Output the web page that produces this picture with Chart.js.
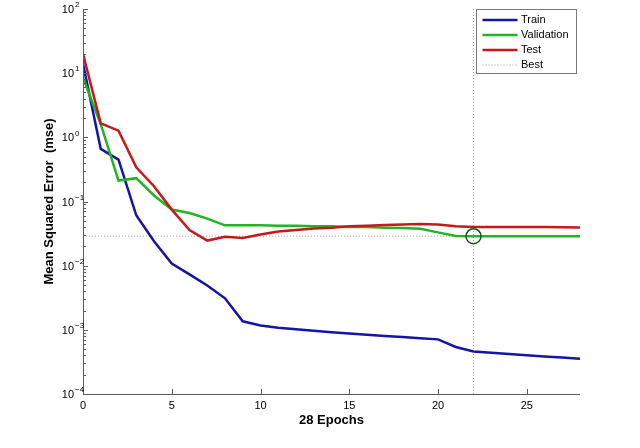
<!DOCTYPE html>
<html>
<head>
<meta charset="UTF-8">
<title>Performance</title>
<script src="https://cdn.jsdelivr.net/npm/chart.js@4/dist/chart.umd.min.js"></script>
<style>
  html, body { margin: 0; padding: 0; background: #fff; }
  #wrap { width: 640px; height: 448px; }
</style>
</head>
<body>
<div id="wrap"><canvas id="perf"></canvas></div>
<script>
const epochs = [0, 1, 2, 3, 4, 5, 6, 7, 8, 9, 10, 11, 12, 13, 14, 15, 16, 17, 18, 19, 20, 21, 22, 23, 24, 25, 26, 27, 28];
const trainMse = [14, 0.66, 0.45, 0.061, 0.024, 0.0108, 0.0073, 0.0049, 0.0031, 0.00136, 0.00117, 0.00108, 0.00102, 0.00097, 0.00092, 0.00088, 0.00084, 0.0008, 0.00077, 0.00074, 0.00071, 0.00054, 0.00046, 0.00044, 0.00042, 0.0004, 0.000385, 0.00037, 0.000355];
const validationMse = [8.5, 1.6, 0.212, 0.231, 0.124, 0.075, 0.066, 0.054, 0.0425, 0.0425, 0.0425, 0.042, 0.042, 0.041, 0.041, 0.04, 0.04, 0.039, 0.0385, 0.0375, 0.033, 0.029, 0.0288, 0.0288, 0.0288, 0.0288, 0.0288, 0.0288, 0.0288];
const testMse = [20, 1.65, 1.27, 0.342, 0.173, 0.0748, 0.036, 0.0246, 0.0281, 0.0271, 0.0305, 0.034, 0.036, 0.038, 0.039, 0.041, 0.042, 0.043, 0.044, 0.0448, 0.0438, 0.041, 0.04, 0.04, 0.04, 0.04, 0.04, 0.0398, 0.0395];
const bestEpoch = 22;
const bestMse = validationMse[bestEpoch];
const xTicks = [0, 5, 10, 15, 20, 25];
const decades = [-4, -3, -2, -1, 0, 1, 2];

const FONT = '"Liberation Sans", Arial, Helvetica, sans-serif';
const AXIS = '#5a5a5a';
const colTrain = '#1414a6', colVal = '#22b422', colTest = '#c41a1a', colBest = '#9aa6bc';

function pts(ys) { return epochs.map((e, i) => ({ x: e, y: ys[i] })); }

// axes, inward ticks, y labels, titles and the legend, MATLAB style
const matlabLook = {
  id: 'matlabLook',
  afterDraw(chart) {
    const ctx = chart.ctx, a = chart.chartArea;
    const xs = chart.scales.x, ys = chart.scales.y;
    ctx.save();
    ctx.strokeStyle = AXIS;
    ctx.lineWidth = 1;
    ctx.beginPath();
    ctx.moveTo(a.left + 0.5, a.top);
    ctx.lineTo(a.left + 0.5, a.bottom + 0.5);
    ctx.lineTo(a.right, a.bottom + 0.5);
    // x ticks
    xTicks.forEach(v => {
      const px = Math.round(xs.getPixelForValue(v)) + 0.5;
      ctx.moveTo(px, a.bottom);
      ctx.lineTo(px, a.bottom - 5);
    });
    // y major + minor ticks
    decades.forEach(k => {
      const py = Math.round(ys.getPixelForValue(Math.pow(10, k))) + 0.5;
      ctx.moveTo(a.left, py);
      ctx.lineTo(a.left + 5, py);
      if (k < 2) {
        for (let m = 2; m <= 9; m++) {
          const q = Math.round(ys.getPixelForValue(m * Math.pow(10, k))) + 0.5;
          ctx.moveTo(a.left, q);
          ctx.lineTo(a.left + 3, q);
        }
      }
    });
    ctx.stroke();

    // y tick labels 10^k
    ctx.fillStyle = '#000';
    decades.forEach(k => {
      const py = ys.getPixelForValue(Math.pow(10, k));
      ctx.font = '11px ' + FONT;
      ctx.textAlign = 'right';
      ctx.textBaseline = 'middle';
      ctx.fillText('10', a.left - 9, py + 1);
      ctx.font = '8px ' + FONT;
      ctx.textAlign = 'left';
      ctx.fillText(String(k).replace('-', '\u2212'), a.left - 8, py - 4);
    });

    // axis titles
    ctx.font = 'bold 13px ' + FONT;
    ctx.textAlign = 'center';
    ctx.textBaseline = 'middle';
    ctx.fillText((epochs.length - 1) + ' Epochs', (a.left + a.right) / 2, 420);
    ctx.save();
    ctx.translate(49, (a.top + a.bottom) / 2);
    ctx.rotate(-Math.PI / 2);
    ctx.fillText('Mean Squared Error  (mse)', 0, 0);
    ctx.restore();

    // legend
    const lx = 476.5, ly = 9.5, lw = 100, lh = 64;
    ctx.fillStyle = '#fff';
    ctx.fillRect(lx, ly, lw, lh);
    ctx.strokeStyle = '#7a7a7a';
    ctx.strokeRect(lx, ly, lw, lh);
    const items = [
      ['Train', colTrain, 2.5, []],
      ['Validation', colVal, 2.5, []],
      ['Test', colTest, 2.5, []],
      ['Best', colBest, 1, [1, 2]]
    ];
    items.forEach((it, i) => {
      const y = ly + 10.5 + i * 15;
      ctx.strokeStyle = it[1];
      ctx.lineWidth = it[2];
      ctx.setLineDash(it[3]);
      ctx.beginPath();
      ctx.moveTo(lx + 6, y);
      ctx.lineTo(lx + 41, y);
      ctx.stroke();
      ctx.setLineDash([]);
      ctx.fillStyle = '#000';
      ctx.font = '11px ' + FONT;
      ctx.textAlign = 'left';
      ctx.textBaseline = 'middle';
      ctx.fillText(it[0], lx + 44.5, y);
    });
    ctx.restore();
  }
};

new Chart(document.getElementById('perf'), {
  type: 'line',
  data: {
    datasets: [
      { label: 'Best marker', type: 'scatter', data: [{ x: bestEpoch, y: bestMse }], order: 0,
        pointRadius: 7.5, pointBorderWidth: 1.5, pointBorderColor: '#0c5c0c', pointBackgroundColor: 'rgba(0,0,0,0)' },
      { label: 'Test', data: pts(testMse), borderColor: colTest, borderWidth: 2.5, order: 1 },
      { label: 'Validation', data: pts(validationMse), borderColor: colVal, borderWidth: 2.5, order: 2 },
      { label: 'Train', data: pts(trainMse), borderColor: colTrain, borderWidth: 2.5, order: 3 },
      { label: 'Best', data: [{ x: epochs[0], y: bestMse }, { x: bestEpoch, y: bestMse }],
        borderColor: colBest, borderWidth: 1, borderDash: [1, 2], order: 4 },
      { label: 'Best v', data: [{ x: bestEpoch, y: 1e-4 }, { x: bestEpoch, y: 1e2 }],
        borderColor: colBest, borderWidth: 1, borderDash: [1, 2], order: 4 }
    ]
  },
  options: {
    responsive: true,
    maintainAspectRatio: false,
    animation: false,
    layout: { padding: { left: 0, right: 60, top: 6, bottom: 0 } },
    elements: { point: { radius: 0 }, line: { tension: 0, fill: false } },
    plugins: { legend: { display: false }, tooltip: { enabled: false } },
    scales: {
      x: {
        type: 'linear', min: 0, max: 28,
        grid: { display: false, drawTicks: false },
        border: { display: false },
        ticks: { stepSize: 5, includeBounds: false, padding: 5, color: '#000', font: { family: FONT, size: 11 } },
        afterFit(s) { s.height = 54; }
      },
      y: {
        type: 'logarithmic', min: 1e-4, max: 1e2,
        grid: { display: false, drawTicks: false },
        border: { display: false },
        ticks: { display: false },
        afterFit(s) { s.width = 83; }
      }
    }
  },
  plugins: [matlabLook]
});
</script>
</body>
</html>
